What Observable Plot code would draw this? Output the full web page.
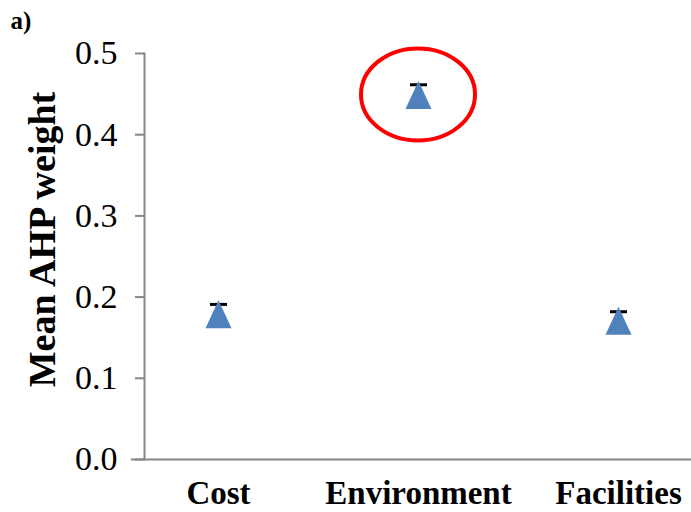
<!DOCTYPE html>
<html>
<head>
<meta charset="utf-8">
<script src="https://cdn.jsdelivr.net/npm/d3@7"></script>
<script src="https://cdn.jsdelivr.net/npm/@observablehq/plot@0.6"></script>
<style>
  html, body { margin: 0; padding: 0; background: #fff; }
  #chart svg { display: block; }
</style>
</head>
<body>
<div id="chart"></div>
<script>
// Mean AHP weight per criterion, with the upper error-bar extent
const categories = ["Cost", "Environment", "Facilities"];
const meanWeights = [0.179, 0.449, 0.171];
const errorBars = [0.012, 0.0125, 0.011];
const yTicks = [0.0, 0.1, 0.2, 0.3, 0.4, 0.5];
const highlighted = "Environment";
const panelTag = "a)";

const rows = categories.map((c, i) => ({
  category: c,
  mean: meanWeights[i],
  upper: meanWeights[i] + errorBars[i]
}));

// Tall isosceles triangle marker, centred on its bounding box
const tallTriangle = {
  draw(ctx, size) {
    const r = Math.sqrt(size / Math.PI);
    const w = r, h = r * 14 / 13;
    ctx.moveTo(0, -h);
    ctx.lineTo(w, h);
    ctx.lineTo(-w, h);
    ctx.closePath();
  }
};

// Flat bar used as the error-bar cap
const capBar = {
  draw(ctx, size) {
    const r = Math.sqrt(size / Math.PI);
    ctx.rect(-r, -1.5, 2 * r, 3);
  }
};

const axisGray = "#868686";
const serif = "'Liberation Serif', 'Times New Roman', serif";

// Red ellipse drawn around the highlighted criterion
const highlightRing = (index, scales) => {
  const row = rows.find(d => d.category === highlighted);
  return d3.create("svg:ellipse")
    .attr("cx", scales.x(row.category))
    .attr("cy", scales.y(row.mean))
    .attr("rx", 57)
    .attr("ry", 46)
    .attr("fill", "none")
    .attr("stroke", "#ff0000")
    .attr("stroke-width", 4)
    .node();
};

const chart = Plot.plot({
  width: 691,
  height: 512,
  marginLeft: 144,
  marginRight: 0,
  marginTop: 53,
  marginBottom: 53,
  style: { fontFamily: serif, background: "#fff", color: "#000" },
  x: { type: "point", domain: categories, padding: 0.3675 },
  y: { domain: [0, 0.5] },
  marks: [
    Plot.frame({ anchor: "left", stroke: axisGray, strokeWidth: 2 }),
    Plot.ruleY([0], { stroke: axisGray, strokeWidth: 2, insetLeft: -13 }),
    Plot.axisY({
      ticks: yTicks,
      tickFormat: d3.format(".1f"),
      tickSize: 9,
      tickPadding: 18,
      stroke: axisGray,
      strokeWidth: 2,
      fill: "#000",
      fontSize: 34,
      label: null
    }),
    Plot.axisX({
      tickSize: 0,
      tickPadding: 21,
      fill: "#000",
      fontSize: 33,
      fontWeight: "bold",
      label: null
    }),
    Plot.text(["Mean AHP weight"], {
      frameAnchor: "left",
      textAnchor: "middle",
      lineAnchor: "middle",
      rotate: -90,
      dx: -102,
      dy: -17,
      fontSize: 38,
      fontWeight: "bold",
      fill: "#000"
    }),
    Plot.text([panelTag], {
      frameAnchor: "top-left",
      textAnchor: "start",
      lineAnchor: "middle",
      dx: -134,
      dy: -33,
      fontSize: 25,
      fontWeight: "bold",
      fill: "#000"
    }),
    Plot.ruleX(rows, { x: "category", y1: "mean", y2: "upper", stroke: "#000", strokeWidth: 2 }),
    Plot.dot(rows, { x: "category", y: "upper", symbol: capBar, r: 8.5, fill: "#000", stroke: "none" }),
    Plot.dot(rows, { x: "category", y: "mean", symbol: tallTriangle, r: 13, fill: "#4f81bd", stroke: "none" }),
    highlightRing
  ]
});

document.getElementById("chart").append(chart);
</script>
</body>
</html>
